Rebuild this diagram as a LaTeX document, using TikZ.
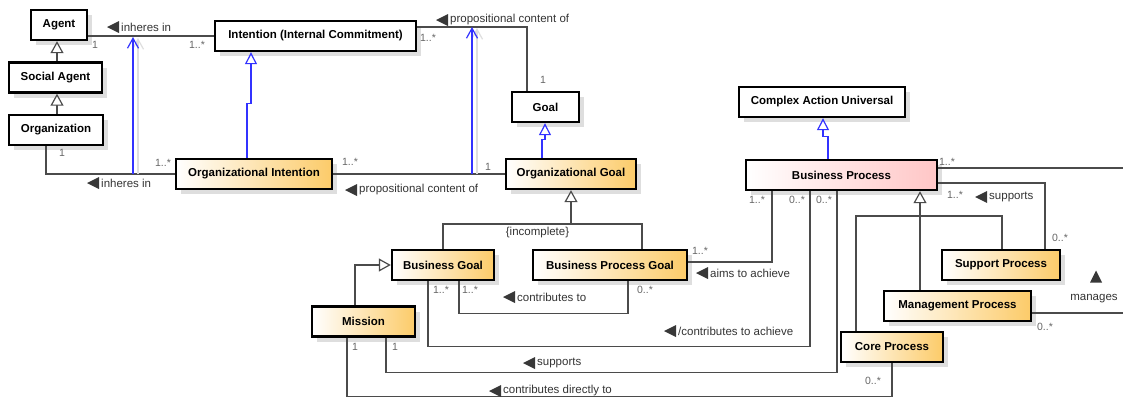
\documentclass[tikz,border=0pt]{standalone}
\usepackage{fontspec}
\setmainfont{Liberation Sans}
\usetikzlibrary{arrows.meta,shadows}

\definecolor{umlgold}{RGB}{252,203,105}
\definecolor{umlpink}{RGB}{255,198,198}
\definecolor{umlblue}{RGB}{50,50,255}
\definecolor{umlline}{RGB}{75,75,75}
\definecolor{umlshadow}{RGB}{222,222,222}

\tikzset{
  cls/.style={draw=black, line width=2.4pt, minimum height=30pt, inner sep=0pt,
    font=\fontsize{11.5}{13}\selectfont\bfseries,
    drop shadow={shadow xshift=5pt, shadow yshift=-5pt, fill=umlshadow, opacity=1}},
  plain/.style={cls, fill=white},
  gold/.style={cls, left color=white, right color=umlgold},
  pink/.style={cls, left color=white, right color=umlpink},
  assoc/.style={draw=umlline, line width=1.2pt},
  gen/.style={assoc, -{Triangle[width=13pt,length=12pt,fill=white]}},
  bgen/.style={draw=umlblue, line width=1.2pt, -{Triangle[width=12pt,length=12pt,fill=white]}},
  dep/.style={draw=umlblue, line width=1.2pt, -{Straight Barb[width=11pt,length=10pt]}},
  depshade/.style={draw=umlshadow, line width=1.2pt, -{Straight Barb[width=11pt,length=10pt]}},
  lbl/.style={font=\fontsize{11.5}{13}\selectfont, text=black!80, inner sep=0pt, anchor=west},
  mult/.style={font=\fontsize{10.5}{12}\selectfont, text=black!60, inner sep=0pt},
  tri/.style={fill=black!78},
}
% left-pointing role marker in front of a label node
\newcommand\ltri[1]{\fill[tri] ([xshift=-2pt]#1.west) -- ++(0,-6) -- ++(-12,6) -- ++(12,6) -- cycle;}

\begin{document}
\begin{tikzpicture}[x=1pt,y=-1pt]
\useasboundingbox (0,0) rectangle (1123,400);

% classes
\node[plain, minimum width=56pt]  (agent)   at (59,25)      {Agent};
\node[plain, minimum width=93pt]  (social)  at (55.5,77.5)  {Social Agent};
\node[plain, minimum width=94pt]  (org)     at (56,130)     {Organization};
\node[plain, minimum width=201pt] (intent)  at (315.5,36)   {Intention (Internal Commitment)};
\node[gold,  minimum width=156pt] (orgint)  at (254,174)    {Organizational Intention};
\node[plain, minimum width=67pt]  (goal)    at (545.5,107)  {Goal};
\node[gold,  minimum width=130pt] (orggoal) at (571,174)    {Organizational Goal};
\node[plain, minimum width=166pt] (cau)     at (822,102)    {Complex Action Universal};
\node[pink,  minimum width=191pt] (bp)      at (841.5,175)  {Business Process};
\node[gold,  minimum width=102pt] (bgoal)   at (443,265)    {Business Goal};
\node[gold,  minimum width=154pt] (bpgoal)  at (610,265)    {Business Process Goal};
\node[gold,  minimum width=103pt] (mission) at (363.5,321.5){Mission};
\node[gold,  minimum width=118pt] (supp)    at (1001,265)   {Support Process};
\node[gold,  minimum width=147pt] (mgmt)    at (957.5,306)  {Management Process};
\node[gold,  minimum width=102pt] (core)    at (892,347)    {Core Process};

% generalizations
\draw[gen] ([xshift=1.5pt]social.north) -- ([xshift=-2pt]agent.south);
\draw[gen] ([xshift=1pt]org.north) -- ([xshift=1.5pt]social.south);
\draw[bgen] ([xshift=-7pt]orgint.north) -- ++(0,-54) -- ++(4,0) -- ([xshift=-64.5pt]intent.south);
\draw[bgen] ([xshift=-29pt]orggoal.north) -- ++(0,-18) -- ++(3,0) -- ([xshift=-0.5pt]goal.south);
\draw[bgen] ([xshift=-13.5pt]bp.north) -- ++(0,-22) -- ++(-5,0) -- ([xshift=1pt]cau.south);

\coordinate (gj) at (571,224);
\draw[gen] (bgoal.north) |- (gj) -- (orggoal.south);
\draw[assoc] ([xshift=32pt]bpgoal.north) |- (gj);
\node[lbl, anchor=center] (incomp) at (537.5,233) {\{incomplete\}};

\draw[gen] ([xshift=-8.5pt]mission.north) |- (bgoal.west);

\coordinate (pj) at (920,216);
\draw[gen] (pj) -- ([xshift=78.5pt]bp.south);
\draw[assoc] ([xshift=-36pt]core.north) |- (pj) -| ([xshift=1pt]supp.north);
\draw[assoc] ([xshift=-37.5pt]mgmt.north) -- (pj);

% associations
\draw[assoc] (agent.east |- intent.west) -- (intent.west);
\node[mult] (m1) at (95,45) {1};
\node[mult] (m2) at (197,45) {1..*};
\node[lbl] (l1) at (121,27) {inheres in}; \ltri{l1}

\draw[assoc] ([xshift=-10pt]org.south) |- (orgint.west);
\node[mult] (m3) at (62,153) {1};
\node[mult] (m4) at (163,163) {1..*};
\node[lbl] (l2) at (101,183) {inheres in}; \ltri{l2}

\draw[assoc] ([yshift=9pt]intent.east) -| ([xshift=-18.5pt]goal.north);
\node[mult] (m5) at (428,38) {1..*};
\node[mult] (m6) at (543,80) {1};
\node[lbl] (l3) at (450,20) {propositional content of}; \ltri{l3}

\draw[assoc] (orgint.east) -- (orggoal.west);
\node[mult] (m7) at (350,162) {1..*};
\node[mult] (m8) at (488,167) {1};
\node[lbl] (l4) at (359,190) {propositional content of}; \ltri{l4}

% derived dependencies between associations
\coordinate (d1a) at (133,174); \coordinate (d1b) at (133,37);
\coordinate (d2a) at (472,174); \coordinate (d2b) at (472,27);
\draw[depshade] ([xshift=5pt]d1a) -- ([xshift=5pt,yshift=-1pt]d1b);
\draw[depshade] ([xshift=5pt]d2a) -- ([xshift=5pt,yshift=-1pt]d2b);
\draw[dep] (d1a) -- (d1b);
\draw[dep] (d2a) -- (d2b);

\draw[assoc] ([xshift=16pt]bgoal.south) -- ++(0,32) -| ([xshift=18pt]bpgoal.south);
\node[mult] (m9)  at (441,290) {1..*};
\node[mult] (m10) at (470,290) {1..*};
\node[mult] (m11) at (645,290) {0..*};
\node[lbl] (l6) at (517,297) {contributes to}; \ltri{l6}

\draw[assoc] ([xshift=-15pt]bgoal.south) -- ++(0,65) -| ([xshift=-31.5pt]bp.south);
\node[mult] (m12) at (797,200) {0..*};
\node[lbl] (l8) at (678,331) {/contributes to achieve}; \ltri{l8}

\draw[assoc] ([yshift=3pt]bpgoal.east) -| ([xshift=-69.5pt]bp.south);
\node[mult] (m13) at (700,251) {1..*};
\node[mult] (m14) at (757,200) {1..*};
\node[lbl] (l7) at (710,273) {aims to achieve}; \ltri{l7}

\draw[assoc] ([xshift=22.5pt]mission.south) -- ++(0,35) -| ([xshift=-4.5pt]bp.south);
\node[mult] (m15) at (395,347) {1};
\node[mult] (m16) at (824,200) {0..*};
\node[lbl] (l9) at (537,363) {supports}; \ltri{l9}

\draw[assoc] ([xshift=-16.5pt]mission.south) -- ++(0,59) -| (core.south);
\node[mult] (m17) at (355,347) {1};
\node[mult] (m18) at (873,381) {0..*};
\node[lbl] (l10) at (503,391) {contributes directly to}; \ltri{l10}

\draw[assoc] ([yshift=-8pt]bp.east) -| ([xshift=44pt]supp.north);
\node[mult] (m19) at (955,195) {1..*};
\node[mult] (m20) at (1060,238) {0..*};
\node[lbl] (l11) at (989,197) {supports}; \ltri{l11}

\coordinate (mgA) at (1123,168);
\coordinate (mgB) at (1123,313);
\draw[assoc] ([yshift=7pt]bp.east) -- (mgA);
\draw[assoc] ([yshift=-7pt]mgmt.east) -- (mgB);
\node[mult] (m21) at (947,162) {1..*};
\node[mult] (m22) at (1045,327) {0..*};
\node[lbl, anchor=center] (l12) at (1094,299) {manages};
\fill[tri] ([xshift=-4pt,yshift=12pt]l12.north) -- ++(6,-12) -- ++(6,12) -- cycle;

\end{tikzpicture}
\end{document}
